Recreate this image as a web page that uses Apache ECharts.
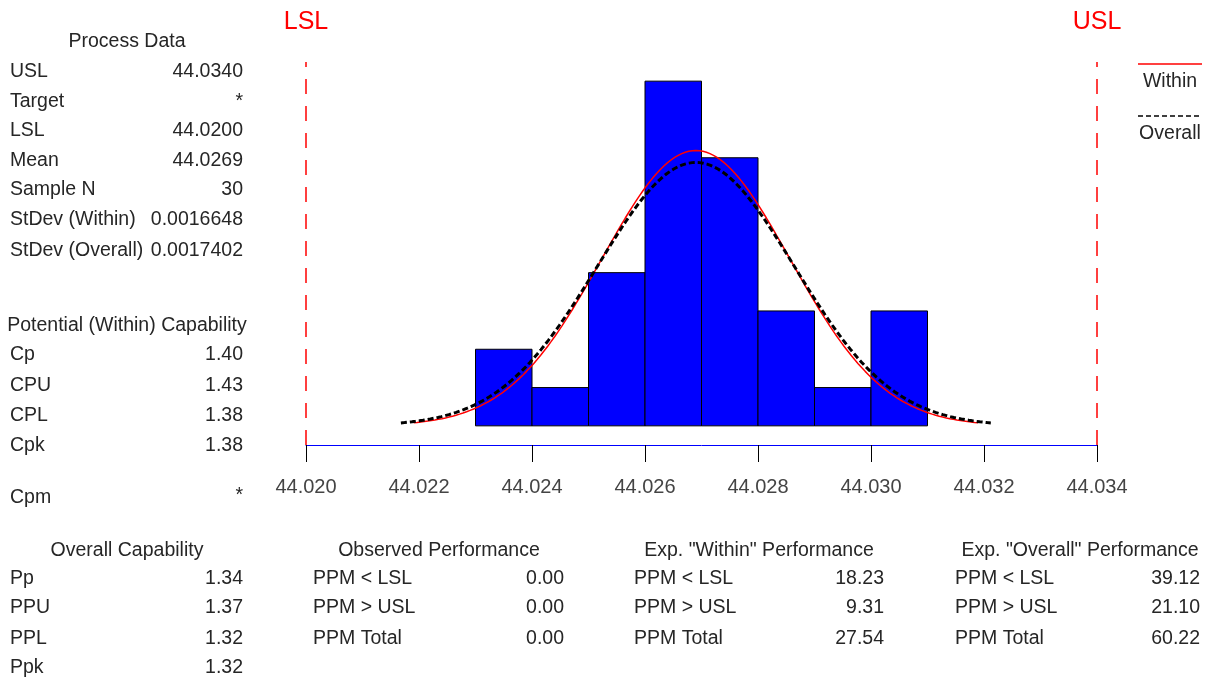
<!DOCTYPE html>
<html>
<head>
<meta charset="utf-8">
<script src="https://cdn.jsdelivr.net/npm/echarts@6/dist/echarts.min.js"></script>
<style>
  html, body { margin: 0; padding: 0; background: #fff; }
  #chart { width: 1215px; height: 677px; }
</style>
</head>
<body>
<div id="chart"></div>
<script>
// Histogram bins (lower edge of each 0.001-wide bin) and counts
const binStarts = [44.023, 44.024, 44.025, 44.026, 44.027, 44.028, 44.029, 44.030];
const binCounts = [2, 1, 4, 9, 7, 3, 1, 3];
const binWidth = 0.001;

// Specification limits
const LSL = 44.020;
const USL = 44.034;

// Fitted normal parameters
const sampleN = 30;
const meanValue = 44.0269;
const sdWithin = 0.0016648;
const sdOverall = 0.0017402;

// Axis range / ticks
const xMin = 44.020, xMax = 44.034, xStep = 0.002;
const yMin = -0.5, yMax = 9.5;

// Text tables
const processTitle = 'Process Data';
const processLabels = ['USL', 'Target', 'LSL', 'Mean', 'Sample N', 'StDev (Within)', 'StDev (Overall)'];
const processValues = ['44.0340', '*', '44.0200', '44.0269', '30', '0.0016648', '0.0017402'];

const potentialTitle = 'Potential (Within) Capability';
const potentialLabels = ['Cp', 'CPU', 'CPL', 'Cpk'];
const potentialValues = ['1.40', '1.43', '1.38', '1.38'];
const cpmLabel = 'Cpm', cpmValue = '*';

const overallTitle = 'Overall Capability';
const overallLabels = ['Pp', 'PPU', 'PPL', 'Ppk'];
const overallValues = ['1.34', '1.37', '1.32', '1.32'];

const ppmLabels = ['PPM < LSL', 'PPM > USL', 'PPM Total'];
const observedTitle = 'Observed Performance';
const observedValues = ['0.00', '0.00', '0.00'];
const expWithinTitle = 'Exp. "Within" Performance';
const expWithinValues = ['18.23', '9.31', '27.54'];
const expOverallTitle = 'Exp. "Overall" Performance';
const expOverallValues = ['39.12', '21.10', '60.22'];

// Normal density scaled to histogram counts, over mean ± 3 sd
function normalCurve(mu, sd) {
  const pts = [];
  const steps = 160;
  const scale = sampleN * binWidth;
  for (let i = 0; i <= steps; i++) {
    const x = mu - 3 * sd + (6 * sd * i) / steps;
    const z = (x - mu) / sd;
    const y = scale * Math.exp(-0.5 * z * z) / (sd * Math.sqrt(2 * Math.PI));
    pts.push([x, y]);
  }
  return pts;
}

const FONT = '"Liberation Sans", Arial, sans-serif';
const TXT = '#262626';
const FS = 19.5;

const graphics = [];
function addText(text, x, y, align, opts) {
  graphics.push({
    type: 'text',
    x: x, y: y + 2,
    style: Object.assign({
      text: text,
      fill: TXT,
      font: FS + 'px ' + FONT,
      textAlign: align,
      textVerticalAlign: 'middle'
    }, opts || {})
  });
}

// Process data block
addText(processTitle, 127, 40, 'center');
const procY = [70, 100, 129, 159, 188, 218, 249];
processLabels.forEach((l, i) => {
  addText(l, 10, procY[i], 'left');
  addText(processValues[i], 243, procY[i], 'right');
});

// Potential capability block
addText(potentialTitle, 127, 324, 'center');
const potY = [353, 384, 414, 444];
potentialLabels.forEach((l, i) => {
  addText(l, 10, potY[i], 'left');
  addText(potentialValues[i], 243, potY[i], 'right');
});
addText(cpmLabel, 10, 496, 'left');
addText(cpmValue, 243, 494, 'right');

// Overall capability block
const rowY = [577, 606, 637, 666];
addText(overallTitle, 127, 549, 'center');
overallLabels.forEach((l, i) => {
  addText(l, 10, rowY[i], 'left');
  addText(overallValues[i], 243, rowY[i], 'right');
});

// Performance blocks
const perfBlocks = [
  { title: observedTitle, cx: 439, lx: 313, rx: 564, vals: observedValues },
  { title: expWithinTitle, cx: 759, lx: 634, rx: 884, vals: expWithinValues },
  { title: expOverallTitle, cx: 1080, lx: 955, rx: 1200, vals: expOverallValues }
];
perfBlocks.forEach(b => {
  addText(b.title, b.cx, 549, 'center');
  ppmLabels.forEach((l, i) => {
    addText(l, b.lx, rowY[i], 'left');
    addText(b.vals[i], b.rx, rowY[i], 'right');
  });
});

// Curve key
graphics.push({ type: 'line', shape: { x1: 1138, y1: 64, x2: 1202, y2: 64 }, style: { stroke: '#ff0000', lineWidth: 1.5 } });
addText('Within', 1170, 80, 'center');
graphics.push({ type: 'line', shape: { x1: 1138, y1: 116, x2: 1202, y2: 116 }, style: { stroke: '#000', lineWidth: 1.5, lineDash: [5, 3] } });
addText('Overall', 1170, 132, 'center');

const chart = echarts.init(document.getElementById('chart'), null, { renderer: 'canvas' });

const histData = binStarts.map((s, i) => [s, s + binWidth, binCounts[i]]);

// Vertical dashed line for a specification limit, spanning the plot height
function specLine(name, x) {
  return [
    { name: name, coord: [x, yMin] },
    { coord: [x, yMax] }
  ];
}

const option = {
  backgroundColor: '#ffffff',
  animation: false,
  grid: { left: 306, right: 118, top: 62, bottom: 232 },
  xAxis: {
    type: 'value',
    min: xMin, max: xMax, interval: xStep,
    axisLine: { onZero: false, lineStyle: { color: '#0000ff', width: 1 } },
    axisTick: { show: true, length: 17, lineStyle: { color: '#000', width: 1 } },
    axisLabel: {
      margin: 32,
      color: '#444',
      fontSize: 20,
      fontFamily: FONT,
      formatter: v => v.toFixed(3)
    },
    splitLine: { show: false }
  },
  yAxis: {
    type: 'value',
    min: yMin, max: yMax,
    show: false,
    splitLine: { show: false }
  },
  series: [
    {
      type: 'custom',
      name: 'Histogram',
      data: histData,
      encode: { x: [0, 1], y: 2 },
      renderItem: function (params, api) {
        const p0 = api.coord([api.value(0), 0]);
        const p1 = api.coord([api.value(1), api.value(2)]);
        return {
          type: 'rect',
          shape: { x: p0[0], y: p1[1], width: p1[0] - p0[0], height: p0[1] - p1[1] },
          style: { fill: '#0000ff', stroke: '#000', lineWidth: 1 }
        };
      },
      z: 2
    },
    {
      type: 'line',
      name: 'Within',
      data: normalCurve(meanValue, sdWithin),
      showSymbol: false,
      lineStyle: { color: '#ff0000', width: 1.5 },
      z: 3
    },
    {
      type: 'line',
      name: 'Overall',
      data: normalCurve(meanValue, sdOverall),
      showSymbol: false,
      lineStyle: { color: '#000000', width: 3, type: [6, 3] },
      z: 4
    },
    {
      type: 'line',
      name: 'Spec limits',
      data: [],
      markLine: {
        silent: true,
        symbol: 'none',
        lineStyle: { color: '#ff0000', width: 1.5, type: [15, 12] },
        label: {
          show: true,
          position: 'end',
          distance: 27,
          color: '#ff0000',
          fontSize: 25,
          fontFamily: FONT,
          formatter: p => p.name
        },
        data: [specLine('LSL', LSL), specLine('USL', USL)]
      },
      z: 1
    }
  ],
  graphic: graphics
};

chart.setOption(option);
</script>
</body>
</html>
